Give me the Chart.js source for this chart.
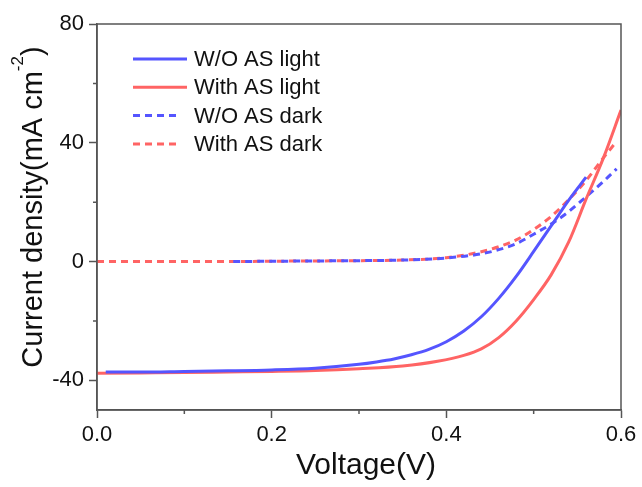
<!DOCTYPE html>
<html lang="en">
  <head>
    <meta charset="utf-8" />
    <title>J-V curves</title>
    <style>
      html, body { margin: 0; padding: 0; background: #fff; }
    </style>
  </head>
  <body>
    <canvas id="chart" width="642" height="487"></canvas>
    <script src="https://cdn.jsdelivr.net/npm/chart.js"></script>
    <script>
      // values (V, mA cm^-2)
      const woLightV = [0.01, 0.05, 0.1, 0.15, 0.2, 0.25, 0.3, 0.32, 0.34, 0.36, 0.38, 0.4, 0.42, 0.44, 0.46, 0.48, 0.5, 0.52, 0.54, 0.56];
      const woLightJ = [-37.2, -37.2, -37.0, -36.8, -36.5, -35.9, -34.6, -33.8, -32.8, -31.4, -29.6, -27.0, -23.4, -18.6, -12.4, -5.0, 3.4, 12.0, 20.6, 28.4];

      const wLightV = [0.0, 0.05, 0.1, 0.15, 0.2, 0.25, 0.3, 0.35, 0.39, 0.42, 0.44, 0.46, 0.48, 0.5, 0.52, 0.54, 0.56, 0.58, 0.6];
      const wLightJ = [-37.6, -37.5, -37.4, -37.2, -37.0, -36.7, -36.1, -35.2, -33.6, -31.6, -29.4, -25.6, -20.0, -12.8, -4.5, 6.5, 21.0, 35.0, 51.0];

      const woDarkV = [0.156, 0.2, 0.25, 0.3, 0.35, 0.4, 0.44, 0.46, 0.48, 0.5, 0.52, 0.54, 0.56, 0.58, 0.595];
      const woDarkJ = [0.0, 0.1, 0.2, 0.3, 0.5, 1.2, 2.6, 4.0, 6.0, 9.2, 12.6, 16.8, 21.8, 27.0, 31.2];

      const wDarkV = [0.0, 0.05, 0.1, 0.15, 0.2, 0.25, 0.3, 0.35, 0.4, 0.44, 0.46, 0.48, 0.5, 0.52, 0.54, 0.56, 0.58, 0.595];
      const wDarkJ = [0.0, 0.0, 0.0, 0.0, 0.1, 0.2, 0.3, 0.5, 1.3, 3.3, 5.0, 7.3, 10.8, 15.2, 20.8, 27.3, 35.0, 40.5];

      const labels = ["W/O AS light", "With AS light", "W/O AS dark", "With AS dark"];
      const xTicks = [0, 0.1, 0.2, 0.3, 0.4, 0.5, 0.6];
      const yTicks = [-40, -20, 0, 20, 40, 60, 80];
      const xMajor = [0, 0.2, 0.4, 0.6];
      const yMajor = [-40, 0, 40, 80];

      const BLUE = "#5555ff";
      const RED = "#ff6464";
      const AXIS = "#555";
      const FONT = "'Liberation Sans', Arial, sans-serif";

      const pts = (xs, ys) => xs.map((x, i) => ({ x, y: ys[i] }));
      const isMajor = (list, v) => list.some((m) => Math.abs(m - v) < 1e-6);

      const series = (label, xs, ys, color, dashed) => ({
        label,
        data: pts(xs, ys),
        borderColor: color,
        backgroundColor: color,
        borderWidth: 3,
        borderDash: dashed ? [7, 5] : [],
        pointRadius: 0,
        showLine: true,
        cubicInterpolationMode: "monotone",
      });

      // frame, minor ticks, titles and legend
      const decorations = {
        id: "decorations",
        afterDraw(chart) {
          const { ctx, chartArea: a, scales } = chart;
          ctx.save();
          ctx.strokeStyle = AXIS;
          ctx.lineWidth = 1.5;
          ctx.strokeRect(a.left, a.top, a.right - a.left, a.bottom - a.top);

          // minor ticks
          ctx.beginPath();
          xTicks.filter((v) => !isMajor(xMajor, v)).forEach((v) => {
            const px = scales.x.getPixelForValue(v);
            ctx.moveTo(px, a.bottom);
            ctx.lineTo(px, a.bottom + 4);
          });
          yTicks.filter((v) => !isMajor(yMajor, v)).forEach((v) => {
            const py = scales.y.getPixelForValue(v);
            ctx.moveTo(a.left, py);
            ctx.lineTo(a.left - 4, py);
          });
          ctx.stroke();

          // x title
          ctx.fillStyle = "#111";
          ctx.font = "30px " + FONT;
          ctx.textAlign = "center";
          ctx.textBaseline = "alphabetic";
          ctx.fillText("Voltage(V)", (a.left + a.right) / 2 + 7, 474);

          // y title with superscript
          const main = "Current density(mA cm";
          const sup = "-2";
          const end = ")";
          ctx.font = "29px " + FONT;
          const wMain = ctx.measureText(main).width;
          const wEnd = ctx.measureText(end).width;
          ctx.font = "17px " + FONT;
          const wSup = ctx.measureText(sup).width;
          const total = wMain + wSup + wEnd;
          ctx.translate(42, 207);
          ctx.rotate(-Math.PI / 2);
          ctx.textAlign = "left";
          let x0 = -total / 2;
          ctx.font = "29px " + FONT;
          ctx.fillText(main, x0, 0);
          ctx.font = "17px " + FONT;
          ctx.fillText(sup, x0 + wMain, -19);
          ctx.font = "29px " + FONT;
          ctx.fillText(end, x0 + wMain + wSup, 0);
          ctx.restore();

          // legend
          ctx.save();
          ctx.font = "22px " + FONT;
          ctx.textBaseline = "middle";
          ctx.fillStyle = "#111";
          chart.data.datasets.forEach((ds, i) => {
            const y = a.top + 35 + i * 28.3;
            const x1 = a.left + 36;
            const dashed = ds.borderDash.length > 0;
            ctx.strokeStyle = ds.borderColor;
            ctx.lineWidth = 3;
            ctx.setLineDash(ds.borderDash);
            ctx.beginPath();
            ctx.moveTo(x1, y);
            ctx.lineTo(x1 + (dashed ? 43 : 54), y);
            ctx.stroke();
            ctx.setLineDash([]);
            ctx.fillText(ds.label, a.left + 97, y + 1);
          });
          ctx.restore();
        },
      };

      new Chart(document.getElementById("chart"), {
        type: "scatter",
        data: {
          datasets: [
            series(labels[0], woLightV, woLightJ, BLUE, false),
            series(labels[1], wLightV, wLightJ, RED, false),
            series(labels[2], woDarkV, woDarkJ, BLUE, true),
            series(labels[3], wDarkV, wDarkJ, RED, true),
          ],
        },
        options: {
          responsive: false,
          animation: false,
          layout: { padding: { top: 24, right: 21, left: 0, bottom: 0 } },
          plugins: { legend: { display: false }, tooltip: { enabled: false } },
          scales: {
            x: {
              type: "linear",
              min: 0,
              max: 0.6,
              afterBuildTicks: (s) => { s.ticks = xTicks.map((value) => ({ value })); },
              afterFit: (s) => { s.height = 77; },
              border: { color: AXIS, width: 1.5 },
              grid: {
                drawOnChartArea: false,
                tickLength: 8,
                tickWidth: 1.5,
                tickColor: (c) => (c.tick && isMajor(xMajor, c.tick.value) ? AXIS : "rgba(0,0,0,0)"),
              },
              ticks: {
                padding: 4,
                color: "#111",
                font: { family: FONT, size: 22 },
                maxRotation: 0,
                autoSkip: false,
                callback: (v) => (isMajor(xMajor, v) ? Number(v).toFixed(1) : ""),
              },
            },
            y: {
              type: "linear",
              min: -50,
              max: 80,
              afterBuildTicks: (s) => { s.ticks = yTicks.map((value) => ({ value })); },
              afterFit: (s) => { s.width = 97; },
              border: { color: AXIS, width: 1.5 },
              grid: {
                drawOnChartArea: false,
                tickLength: 8,
                tickWidth: 1.5,
                tickColor: (c) => (c.tick && isMajor(yMajor, c.tick.value) ? AXIS : "rgba(0,0,0,0)"),
              },
              ticks: {
                padding: 5,
                color: "#111",
                font: { family: FONT, size: 22 },
                autoSkip: false,
                callback: (v) => (isMajor(yMajor, v) ? String(v) : ""),
              },
            },
          },
        },
        plugins: [decorations],
      });
    </script>
  </body>
</html>
